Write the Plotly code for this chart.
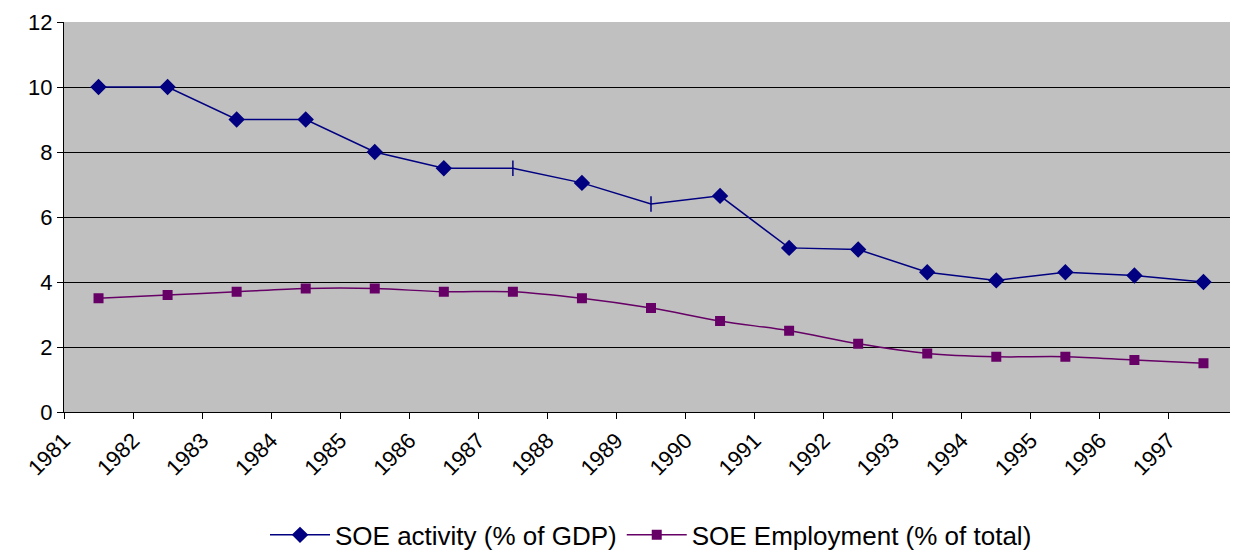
import plotly.graph_objects as go

years = [str(y) for y in range(1981, 1998)]
soe_activity = [10, 10, 9, 9, 8, 7.5, 7.5, 7.05, 6.4, 6.65, 5.05, 5.0, 4.3, 4.05, 4.3, 4.2, 4.0]
soe_employment = [3.5, 3.6, 3.7, 3.8, 3.8, 3.7, 3.7, 3.5, 3.2, 2.8, 2.5, 2.1, 1.8, 1.7, 1.7, 1.6, 1.5]
act_symbols = ["diamond"] * 17
act_symbols[6] = "line-ns"
act_symbols[8] = "line-ns"

xpos = [i + 0.5 for i in range(len(years))]

fig = go.Figure()
fig.add_trace(go.Scatter(x=xpos, y=soe_activity, mode="lines+markers", name="SOE activity (% of GDP)",
                         line=dict(color="#000080", width=1.5),
                         marker=dict(symbol=act_symbols, size=11, color="#000080",
                                     line=dict(color="#000080", width=1.5))))
fig.add_trace(go.Scatter(x=xpos, y=soe_employment, mode="lines+markers", name="SOE Employment (% of total)",
                         line=dict(color="#660066", width=1.5, shape="spline"),
                         marker=dict(symbol="square", size=10, color="#660066")))
fig.update_layout(
    width=1238, height=559, paper_bgcolor="white", plot_bgcolor="#C0C0C0",
    margin=dict(l=56, r=8, t=14, b=128),
    font=dict(family="Liberation Sans, Arial", size=22, color="black"),
    legend=dict(orientation="h", x=0.5, xanchor="center", y=-0.255, yanchor="top",
                font=dict(size=26), itemwidth=60),
    xaxis=dict(range=[0, 17], tickmode="array", tickvals=list(range(17)), ticktext=years,
               tickangle=-45, ticks="outside", ticklen=6, tickcolor="black", automargin=False,
               showgrid=False, showline=True, linecolor="black", zeroline=False),
    yaxis=dict(range=[0, 12], dtick=2, ticks="outside", ticklen=6, tickcolor="black", automargin=False,
               showgrid=True, gridcolor="black", gridwidth=1, showline=True, linecolor="black",
               zeroline=False),
)
fig.write_html("out.html")
